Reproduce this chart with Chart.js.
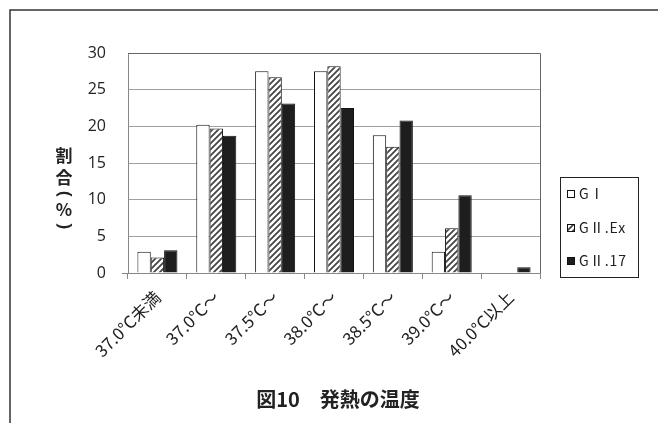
<!DOCTYPE html>
<html>
<head>
<meta charset="utf-8">
<script src="https://cdn.jsdelivr.net/npm/chart.js@4/dist/chart.umd.min.js"></script>
<style>
  html, body { margin: 0; padding: 0; background: #fff; }
  #wrap { width: 658px; height: 423px; position: relative; }
</style>
</head>
<body>
<div id="wrap"><canvas id="c" width="658" height="423"></canvas></div>
<script>
// Fever temperature distribution by group (%)
const categories = ['37.0°C未満', '37.0°C〜', '37.5°C〜', '38.0°C〜', '38.5°C〜', '39.0°C〜', '40.0°C以上'];
const seriesNames = ['GⅠ', 'GⅡ.Ex', 'GⅡ.17'];
const gI    = [2.9, 20.2, 27.5, 27.5, 18.8, 2.9, 0];
const gIIEx = [2.1, 19.7, 26.7, 28.2, 17.2, 6.1, 0];
const gII17 = [3.1, 18.7, 23.1, 22.5, 20.8, 10.6, 0.8];
const yTicks = [0, 5, 10, 15, 20, 25, 30];
const chartTitle = '図10　発熱の温度';
const axisTitleChars = ['割', '合', '（', '%', '）'];

const JP = '"Noto Sans CJK JP", "Noto Sans", sans-serif';
const NUM = '"Open Sans", "Noto Sans", sans-serif';

// diagonal hatch fill
function makeHatch() {
  const s = 6;
  const c = document.createElement('canvas');
  c.width = s; c.height = s;
  const g = c.getContext('2d');
  g.fillStyle = '#fff';
  g.fillRect(0, 0, s, s);
  g.strokeStyle = '#444';
  g.lineWidth = 1.8;
  g.beginPath();
  g.moveTo(-1, s + 1); g.lineTo(s + 1, -1);
  g.moveTo(-2, 2); g.lineTo(2, -2);
  g.moveTo(s - 2, s + 2); g.lineTo(s + 2, s - 2);
  g.stroke();
  return g.createPattern(c, 'repeat');
}
const hatch = makeHatch();

const decorations = {
  id: 'decorations',
  afterDraw(chart) {
    const ctx = chart.ctx;
    const a = chart.chartArea;
    ctx.save();
    // outer frame
    ctx.strokeStyle = '#333';
    ctx.lineWidth = 1.5;
    ctx.strokeRect(10, 10, 720, 500);
    // plot area border (top and right)
    ctx.lineWidth = 1;
    ctx.strokeStyle = '#666';
    ctx.beginPath();
    ctx.moveTo(a.left, a.top + 0.5);
    ctx.lineTo(a.right + 0.5, a.top + 0.5);
    ctx.lineTo(a.right + 0.5, a.bottom);
    ctx.stroke();

    // vertical axis title, brackets turned for vertical writing
    ctx.fillStyle = '#222';
    ctx.textAlign = 'center';
    ctx.textBaseline = 'middle';
    const ys = [156, 178, 194, 210, 226];
    axisTitleChars.forEach((ch, i) => {
      if (ch === '（' || ch === '）') {
        ctx.save();
        ctx.translate(64, ys[i]);
        ctx.rotate(Math.PI / 2);
        ctx.font = 'bold 18px ' + NUM;
        ctx.fillText(ch === '（' ? '(' : ')', 0, 0);
        ctx.restore();
      } else {
        ctx.font = 'bold 17px ' + JP;
        ctx.fillText(ch, 64, ys[i]);
      }
    });

    // chart title
    ctx.font = 'bold 20px ' + JP;
    ctx.fillText(chartTitle, 338, 399);

    // legend
    const lx = 560, ly = 177, lw = 78, lh = 100;
    ctx.strokeStyle = '#222';
    ctx.lineWidth = 1;
    ctx.strokeRect(lx + 0.5, ly + 0.5, lw, lh);
    const rows = [194, 228, 261];
    chart.data.datasets.forEach((d, i) => {
      const y = rows[i];
      ctx.fillStyle = d.backgroundColor;
      ctx.fillRect(567, y - 4, 8, 8);
      ctx.strokeStyle = '#111';
      ctx.strokeRect(567.5, y - 3.5, 7, 7);
      ctx.fillStyle = '#222';
      ctx.font = '14px ' + JP;
      ctx.letterSpacing = '1px';
      ctx.textAlign = 'left';
      ctx.fillText(d.label, 579, y);
      ctx.letterSpacing = '0px';
    });
    ctx.restore();
  }
};

new Chart(document.getElementById('c'), {
  type: 'bar',
  data: {
    labels: categories,
    datasets: [
      { label: seriesNames[0], data: gI,    backgroundColor: '#ffffff', borderColor: '#111', borderWidth: 1 },
      { label: seriesNames[1], data: gIIEx, backgroundColor: hatch,     borderColor: '#111', borderWidth: 1 },
      { label: seriesNames[2], data: gII17, backgroundColor: '#1e1e1e', borderColor: '#111', borderWidth: 1 }
    ]
  },
  options: {
    responsive: false,
    animation: false,
    devicePixelRatio: 1,
    layout: { padding: { left: 0, right: 118, top: 53, bottom: 0 } },
    datasets: { bar: { categoryPercentage: 0.68, barPercentage: 1.0 } },
    plugins: { legend: { display: false }, tooltip: { enabled: false } },
    scales: {
      x: {
        grid: { offset: true, drawOnChartArea: false, drawTicks: true, tickLength: 6, color: '#888' },
        border: { color: '#888' },
        ticks: { maxRotation: 45, minRotation: 45, autoSkip: false, padding: 8, color: '#222', font: { size: 17, family: JP } },
        afterFit(axis) { axis.height = 150; }
      },
      y: {
        min: 0, max: 30,
        afterBuildTicks(axis) { axis.ticks = yTicks.map(v => ({ value: v })); },
        grid: {
          color: '#a0a0a0',
          drawTicks: true,
          tickLength: 6,
          tickColor: (c) => (c.tick && c.tick.value === 0 ? '#888' : 'rgba(0,0,0,0)')
        },
        border: { color: '#888' },
        ticks: { padding: 16, color: '#222', font: { size: 16, family: NUM } },
        afterFit(axis) { axis.width = 128; }
      }
    }
  },
  plugins: [decorations]
});
</script>
</body>
</html>
